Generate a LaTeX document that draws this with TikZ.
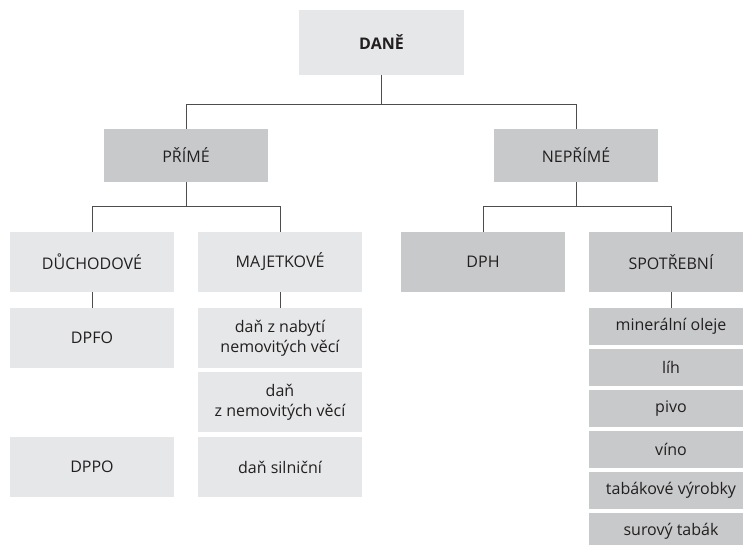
\documentclass[tikz,border=0pt]{standalone}
\usepackage{fontspec}
\setmainfont{Open Sans}
\usepackage{xcolor}
\usepackage{tikz}
\usetikzlibrary{positioning}
\definecolor{lightbox}{HTML}{E6E7E8}
\definecolor{darkbox}{HTML}{C8C9CA}
\definecolor{linegray}{HTML}{4D4D4D}
\definecolor{textgray}{HTML}{231F20}
\begin{document}
\begin{tikzpicture}[x=1pt,y=-1pt]
					\tikzstyle{box}=[rectangle,inner sep=0pt,minimum width=164pt,minimum height=60pt,align=center,text=textgray,font=\fontsize{16}{20}\selectfont]
					\tikzstyle{light}=[box,fill=lightbox]
					\tikzstyle{dark}=[box,fill=darkbox]
					\tikzstyle{item}=[dark,minimum height=37pt]
					\tikzstyle{conn}=[draw=linegray,line width=0.9pt]
					\useasboundingbox (0,0) rectangle (743,544);
					\node[light,minimum width=165pt,minimum height=65pt,font=\fontsize{16}{20}\selectfont\bfseries](dane) at (381.5,42.5){DANĚ};
					\node[dark,minimum height=53pt](prime) at (186,155.5){PŘÍMÉ};
					\node[dark,minimum height=53pt](neprime) at (576,155.5){NEPŘÍMÉ};
					\node[light](duch) at (92,262){DŮCHODOVÉ};
					\node[light](majet) at (280,262){MAJETKOVÉ};
					\node[dark](dph) at (483,262){DPH};
					\node[dark](spotr) at (671,262){SPOTŘEBNÍ};
					\node[light](dpfo) at (92,338){DPFO};
					\node[light](dppo) at (92,467){DPPO};
					\node[light](nabyti) at (280,338){daň z nabytí\\nemovitých věcí};
					\node[light](nemov) at (280,402){daň\\z nemovitých věcí};
					\node[light](silnic) at (280,467){daň silniční};
					\foreach \t [count=\i] in {minerální oleje,líh,pivo,víno,tabákové výrobky,surový tabák}
						\node[item](it\i) at (671,285.5+41*\i){\t};
					\coordinate (j1) at (381.5,104);
					\coordinate (j2) at (186,206);
					\coordinate (j3) at (576,206);
					\path[conn]
						(dane.south) -- (j1) -| (prime.north)
						(j1) -| (neprime.north)
						(prime.south) -- (j2) -| (duch.north)
						(j2) -| (majet.north)
						(neprime.south) -- (j3) -| (dph.north)
						(j3) -| (spotr.north)
						(duch.south) -- (dpfo.north)
						(majet.south) -- (nabyti.north)
						(spotr.south) -- (it1.north);
				\end{tikzpicture}
\end{document}
